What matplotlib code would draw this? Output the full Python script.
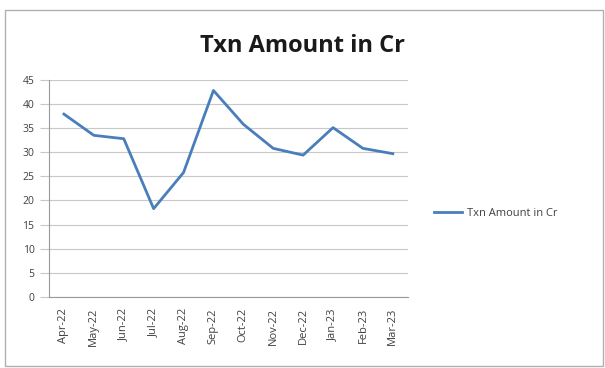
import matplotlib
matplotlib.use("Agg")
from matplotlib import pyplot as plt
from matplotlib.patches import Rectangle

months = ["Apr-22", "May-22", "Jun-22", "Jul-22", "Aug-22", "Sep-22",
          "Oct-22", "Nov-22", "Dec-22", "Jan-23", "Feb-23", "Mar-23"]
amounts = [37.9, 33.5, 32.8, 18.3, 25.8, 42.8, 35.8, 30.8, 29.4, 35.1, 30.8, 29.7]
y_ticks = list(range(0, 50, 5))

plt.rcParams["font.family"] = ["Open Sans", "DejaVu Sans"]

fig = plt.figure(figsize=(6.05, 3.68), dpi=100)
fig.patch.set_facecolor("white")
fig.patches.append(Rectangle((0.008, 0.005), 0.988, 0.968, transform=fig.transFigure,
                             fill=False, edgecolor="#b0b0b0", linewidth=1))

ax = fig.add_axes([0.081, 0.193, 0.593, 0.59])
x = list(range(len(months)))
line, = ax.plot(x, amounts, color="#4a7ebb", linewidth=2, label="Txn Amount in Cr")

ax.set_xlim(-0.5, len(months) - 0.5)
ax.set_ylim(0, 45)
ax.set_yticks(y_ticks)
ax.set_xticks(x)
ax.set_xticklabels(months, rotation=90, fontsize=8, color="#404040")
ax.tick_params(axis="y", labelsize=7.5, labelcolor="#404040", length=6.5,
               color="#c8c8c8", width=0.8, pad=4)
ax.tick_params(axis="x", length=0, pad=8)
ax.yaxis.grid(True, color="#c8c8c8", linewidth=0.8)
ax.set_axisbelow(True)
for side in ["top", "right"]:
    ax.spines[side].set_visible(False)
for side in ["left", "bottom"]:
    ax.spines[side].set_color("#999999")
    ax.spines[side].set_linewidth(0.8)

fig.text(0.5, 0.875, "Txn Amount in Cr", ha="center", va="center",
         fontsize=17, fontweight="bold", color="#1a1a1a")

fig.legend(handles=[line], loc="center left", bbox_to_anchor=(0.70, 0.42),
           frameon=False, fontsize=8, handlelength=2.6, handletextpad=0.4,
           labelcolor="#404040")

fig.savefig("out.png", dpi=100)
